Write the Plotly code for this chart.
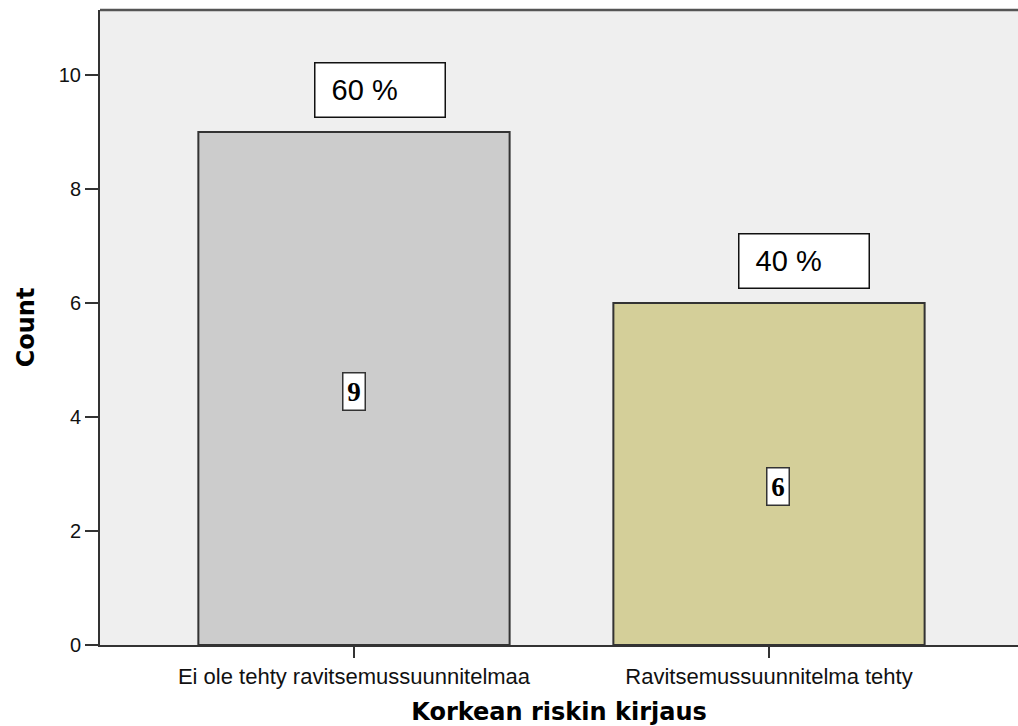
import plotly.graph_objects as go

# Data
categories = ["Ei ole tehty ravitsemussuunnitelmaa", "Ravitsemussuunnitelma tehty"]
counts = [9, 6]
bar_colors = ["#CCCCCC", "#D4CF99"]
y_ticks = [0, 2, 4, 6, 8, 10]

total = sum(counts)
percents = [round(100 * c / total) for c in counts]

fig = go.Figure()
fig.add_trace(go.Bar(
    x=categories,
    y=counts,
    width=0.75,
    marker=dict(color=bar_colors, line=dict(color="#333333", width=2)),
    hoverinfo="skip",
))

# Percentage boxes above the bars
pct_xshift = [26, 35]
for cat, c, p, dx in zip(categories, counts, percents, pct_xshift):
    fig.add_annotation(
        x=cat, y=c, xref="x", yref="y",
        text="&nbsp;&nbsp;" + f"{p} %",
        showarrow=False, xanchor="center", yanchor="middle",
        xshift=dx, yshift=42,
        width=129, height=53, align="left", valign="middle",
        bgcolor="white", bordercolor="#111111", borderwidth=1.5, borderpad=0,
        font=dict(family="Liberation Sans, Arial, sans-serif", size=29, color="black"),
    )

# Count labels inside the bars
cnt_xshift = [0, 9]
cnt_yshift = [-3, -13]
for cat, c, dx, dy in zip(categories, counts, cnt_xshift, cnt_yshift):
    fig.add_annotation(
        x=cat, y=c / 2, xref="x", yref="y",
        text=f"<b>{c}</b>",
        showarrow=False, xanchor="center", yanchor="middle",
        xshift=dx, yshift=dy,
        width=17, height=32, borderpad=2,
        bgcolor="white", bordercolor="#333333", borderwidth=1.5,
        font=dict(family="Liberation Serif, Times New Roman, serif", size=27, color="black"),
    )

# Top frame line of the plot area
fig.add_shape(type="line", xref="paper", yref="paper", x0=0, x1=1, y0=1, y1=1,
              line=dict(color="#555555", width=2.5))

fig.update_layout(
    width=1018, height=726,
    margin=dict(l=100, r=0, t=10, b=81),
    paper_bgcolor="white",
    plot_bgcolor="#EFEFEF",
    showlegend=False,
    bargap=0.25,
    font=dict(family="Liberation Sans, Arial, sans-serif", color="black"),
)

fig.update_xaxes(
    type="category",
    range=[-0.612, 1.6],
    showline=True, linecolor="#333333", linewidth=2,
    ticks="outside", ticklen=11, tickwidth=1.5, tickcolor="#333333",
    tickfont=dict(family="Liberation Sans, Arial, sans-serif", size=22, color="#111111"),
    showgrid=False, zeroline=False,
    title=dict(text="<b>Korkean riskin kirjaus</b>", standoff=16,
               font=dict(family="DejaVu Sans, sans-serif", size=24, color="black")),
)

fig.update_yaxes(
    range=[0, 11.14],
    tickvals=y_ticks,
    showline=True, linecolor="#333333", linewidth=2,
    ticks="outside", ticklen=13, tickwidth=1.5, tickcolor="#333333",
    tickfont=dict(family="Liberation Sans, Arial, sans-serif", size=20, color="#111111"),
    showgrid=False, zeroline=False,
    title=dict(text="<b>Count</b>", standoff=17,
               font=dict(family="DejaVu Sans, sans-serif", size=24, color="black")),
)

fig.write_html("out.html")
